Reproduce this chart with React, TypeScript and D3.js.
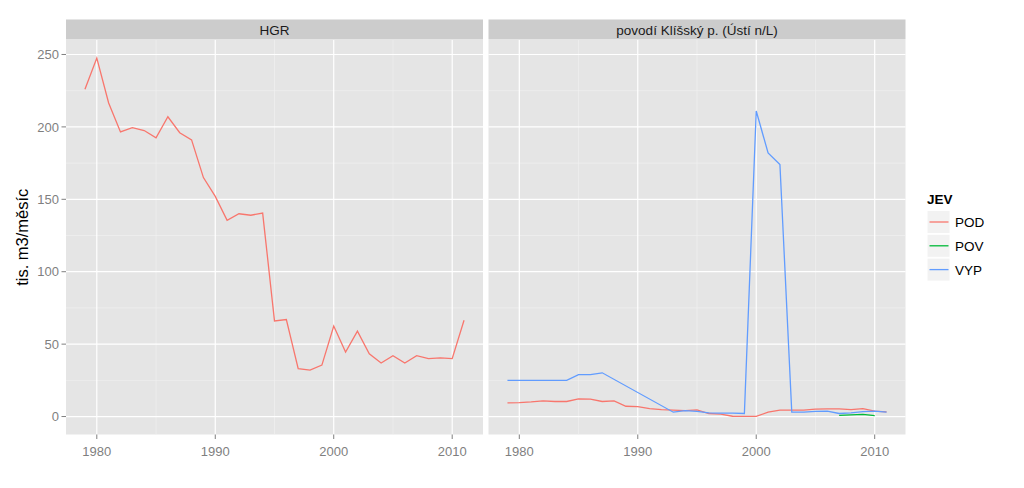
import React from "react";
import * as d3 from "d3";

const years = d3.range(1979, 2012);
const hgrPod = [226, 247.5, 216.5, 196.5, 199.5, 197.5, 192.5, 207, 196, 191, 165, 152, 135.5, 140, 139, 140.5, 66, 67, 33, 32, 35.5, 62.5, 44.5, 59, 43.3, 37, 42, 37, 42, 40, 40.5, 40, 66.5];
const klPod = [9.4, 9.6, 10.1, 10.8, 10.4, 10.4, 12.2, 12, 10.4, 10.8, 7.1, 6.9, 5.5, 4.8, 4.4, 4.1, 4.6, 2.1, 1.6, 0.2, 0.1, 0.1, 3, 4.4, 4.4, 4.4, 5.1, 5.3, 5.3, 4.8, 5.5, 3.7, 3.2];
const vypYears = [1979, 1980, 1981, 1982, 1983, 1984, 1985, 1986, 1987, 1993, 1994, 1995, 1996, 1997, 1998, 1999, 2000, 2001, 2002, 2003, 2004, 2005, 2006, 2007, 2008, 2009, 2010, 2011];
const klVyp = [25, 25, 25, 25, 25, 25, 29, 29, 30.2, 3, 4.1, 3.5, 2.6, 2.4, 2.3, 2.1, 211, 182, 174, 3, 3.1, 3.5, 3.8, 2.1, 2.6, 3.4, 3.7, 3];
const povYears = [2007, 2008, 2009, 2010];
const klPov = [0.8, 1.2, 1.5, 0.6];

const panels = ["HGR", "povodí Klíšský p. (Ústí n/L)"];
const seriesNames = ["POD", "POV", "VYP"];
const colors = ["#F8766D", "#00BA38", "#619CFF"];
const yTicks = [0, 50, 100, 150, 200, 250];
const xTicks = [1980, 1990, 2000, 2010];

type Pt = { x: number; y: number };
const zip = (xs: number[], ys: number[]): Pt[] => xs.map((x, i) => ({ x, y: ys[i] }));

const panelData: { series: number; pts: Pt[] }[][] = [
  [{ series: 0, pts: zip(years, hgrPod) }],
  [
    { series: 0, pts: zip(years, klPod) },
    { series: 1, pts: zip(povYears, klPov) },
    { series: 2, pts: zip(vypYears, klVyp) },
  ],
];

export default function App() {
  const W = 1024, H = 488;
  const top = 40, bottom = 434.5;
  const panelW = 417, gap = 5.5;
  const left0 = 66;
  const font = "'Liberation Sans', Arial, sans-serif";
  const y = d3.scaleLinear().domain([-12.4, 260]).range([bottom, top]);
  const yMinor = [25, 75, 125, 175, 225];
  const xMinor = [1985, 1995, 2005];

  return (
    <svg width={W} height={H} style={{ position: "absolute", left: 0, top: 0, background: "#fff" }} fontFamily={font}>
      <rect x={0} y={0} width={W} height={H} fill="#fff" />
      {panels.map((name, pi) => {
        const x0 = left0 + pi * (panelW + gap);
        const x = d3.scaleLinear().domain([1977.4, 2012.6]).range([x0, x0 + panelW]);
        const line = d3.line<Pt>().x((d) => x(d.x)).y((d) => y(d.y));
        return (
          <g key={name}>
            <rect x={x0} y={19.5} width={panelW} height={20} fill="#CCCCCC" />
            <text x={x0 + panelW / 2} y={34.5} textAnchor="middle" fontSize={13.5} fill="#1A1A1A">{name}</text>
            <rect x={x0} y={top} width={panelW} height={bottom - top} fill="#E5E5E5" />
            {yMinor.map((v) => (
              <line key={"ym" + v} x1={x0} x2={x0 + panelW} y1={y(v)} y2={y(v)} stroke="#F2F2F2" strokeWidth={0.6} />
            ))}
            {xMinor.map((v) => (
              <line key={"xm" + v} x1={x(v)} x2={x(v)} y1={top} y2={bottom} stroke="#F2F2F2" strokeWidth={0.6} />
            ))}
            {yTicks.map((v) => (
              <line key={"y" + v} x1={x0} x2={x0 + panelW} y1={y(v)} y2={y(v)} stroke="#fff" strokeWidth={1.2} />
            ))}
            {xTicks.map((v) => (
              <g key={"x" + v}>
                <line x1={x(v)} x2={x(v)} y1={top} y2={bottom} stroke="#fff" strokeWidth={1.2} />
                <line x1={x(v)} x2={x(v)} y1={bottom} y2={bottom + 4.5} stroke="#7F7F7F" strokeWidth={1} />
                <text x={x(v)} y={455.5} textAnchor="middle" fontSize={13} fill="#7F7F7F">{v}</text>
              </g>
            ))}
            {panelData[pi].map((s) => (
              <path key={s.series} d={line(s.pts) || ""} fill="none" stroke={colors[s.series]} strokeWidth={1.3} />
            ))}
          </g>
        );
      })}
      {yTicks.map((v) => (
        <g key={"yl" + v}>
          <line x1={left0 - 4.5} x2={left0} y1={y(v)} y2={y(v)} stroke="#7F7F7F" strokeWidth={1} />
          <text x={left0 - 7} y={y(v) + 4.7} textAnchor="end" fontSize={13} fill="#7F7F7F">{v}</text>
        </g>
      ))}
      <text transform={`translate(28, ${(top + bottom) / 2}) rotate(-90)`} textAnchor="middle" fontSize={16.5} fill="#000">tis. m3/měsíc</text>
      <g>
        <text x={927} y={204} fontSize={13.5} fontWeight="bold" fill="#000">JEV</text>
        {seriesNames.map((n, i) => {
          const cy = 222 + i * 23.8;
          return (
            <g key={n}>
              <rect x={927} y={cy - 11.5} width={23} height={23} fill="#F2F2F2" stroke="#fff" strokeWidth={1} />
              <line x1={929.5} x2={948.5} y1={cy} y2={cy} stroke={colors[i]} strokeWidth={1.3} />
              <text x={955} y={cy + 5} fontSize={13.5} fill="#000">{n}</text>
            </g>
          );
        })}
      </g>
    </svg>
  );
}
